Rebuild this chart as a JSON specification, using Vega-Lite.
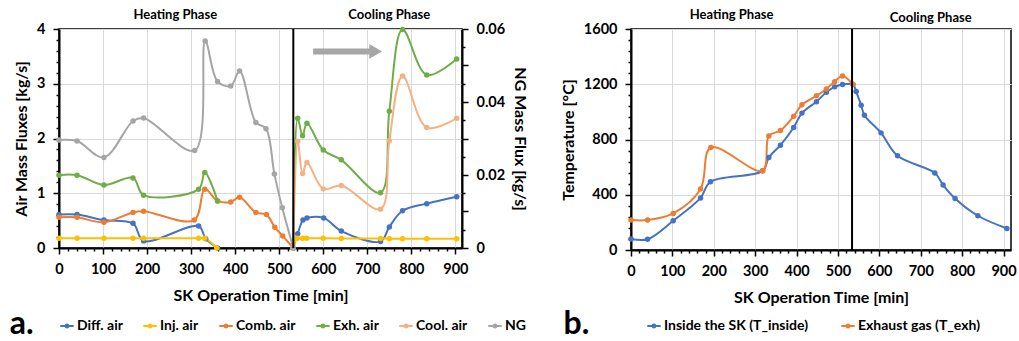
{
  "$schema": "https://vega.github.io/schema/vega-lite/v6.json",
  "padding": {"left": 8, "top": 8, "right": 0, "bottom": 0},
  "background": "white",
  "config": {
    "font": "Lato",
    "view": {"stroke": "black", "strokeWidth": 1.5},
    "axis": {
      "labelFont": "Lato", "labelFontWeight": "bold", "labelFontSize": 14.5, "labelColor": "#000",
      "titleFont": "Lato", "titleFontWeight": "bold", "titleFontSize": 16, "titleColor": "#000",
      "domainColor": "#000", "domainWidth": 2, "tickColor": "#000", "tickWidth": 1.5,
      "gridColor": "#D9D9D9", "gridWidth": 1, "labelFlush": false, "labelOverlap": false
    },
    "legend": {
      "orient": "bottom", "direction": "horizontal", "title": null,
      "labelFont": "Lato", "labelFontWeight": "bold", "labelFontSize": 14, "labelColor": "#000",
      "symbolType": "M-1,0H1M-0.22,0A0.22,0.22,0,1,0,0.22,0A0.22,0.22,0,1,0,-0.22,0",
      "symbolSize": 180, "symbolStrokeWidth": 2, "columnPadding": 16, "labelOffset": 2, "offset": 14
    }
  },
  "datasets": {
    "air": [
      {"s": "Diff. air", "g": "H", "t": 0, "v": 0.61},
      {"s": "Diff. air", "g": "H", "t": 41, "v": 0.61},
      {"s": "Diff. air", "g": "H", "t": 102, "v": 0.51},
      {"s": "Diff. air", "g": "H", "t": 168, "v": 0.45},
      {"s": "Diff. air", "g": "H", "t": 192, "v": 0.13},
      {"s": "Diff. air", "g": "H", "t": 317, "v": 0.40},
      {"s": "Diff. air", "g": "H", "t": 333, "v": 0.17},
      {"s": "Diff. air", "g": "H", "t": 360, "v": 0},
      {"s": "Diff. air", "g": "C", "t": 532, "v": 0},
      {"s": "Diff. air", "g": "C", "t": 542, "v": 0.26},
      {"s": "Diff. air", "g": "C", "t": 554, "v": 0.51},
      {"s": "Diff. air", "g": "C", "t": 563, "v": 0.55},
      {"s": "Diff. air", "g": "C", "t": 601, "v": 0.55},
      {"s": "Diff. air", "g": "C", "t": 641, "v": 0.31},
      {"s": "Diff. air", "g": "C", "t": 730, "v": 0.12},
      {"s": "Diff. air", "g": "C", "t": 750, "v": 0.385},
      {"s": "Diff. air", "g": "C", "t": 780, "v": 0.68},
      {"s": "Diff. air", "g": "C", "t": 835, "v": 0.81},
      {"s": "Diff. air", "g": "C", "t": 903, "v": 0.935},
      {"s": "Inj. air", "g": "H", "t": 0, "v": 0.18},
      {"s": "Inj. air", "g": "H", "t": 41, "v": 0.18},
      {"s": "Inj. air", "g": "H", "t": 102, "v": 0.18},
      {"s": "Inj. air", "g": "H", "t": 168, "v": 0.18},
      {"s": "Inj. air", "g": "H", "t": 192, "v": 0.18},
      {"s": "Inj. air", "g": "H", "t": 317, "v": 0.18},
      {"s": "Inj. air", "g": "H", "t": 331, "v": 0.18},
      {"s": "Inj. air", "g": "H", "t": 358, "v": 0},
      {"s": "Inj. air", "g": "C", "t": 532, "v": 0},
      {"s": "Inj. air", "g": "C", "t": 541, "v": 0.18},
      {"s": "Inj. air", "g": "C", "t": 553, "v": 0.18},
      {"s": "Inj. air", "g": "C", "t": 562, "v": 0.18},
      {"s": "Inj. air", "g": "C", "t": 600, "v": 0.18},
      {"s": "Inj. air", "g": "C", "t": 641, "v": 0.175},
      {"s": "Inj. air", "g": "C", "t": 730, "v": 0.175},
      {"s": "Inj. air", "g": "C", "t": 750, "v": 0.17},
      {"s": "Inj. air", "g": "C", "t": 780, "v": 0.17},
      {"s": "Inj. air", "g": "C", "t": 835, "v": 0.17},
      {"s": "Inj. air", "g": "C", "t": 903, "v": 0.17},
      {"s": "Comb. air", "g": "H", "t": 0, "v": 0.56},
      {"s": "Comb. air", "g": "H", "t": 41, "v": 0.56},
      {"s": "Comb. air", "g": "H", "t": 102, "v": 0.47},
      {"s": "Comb. air", "g": "H", "t": 168, "v": 0.65},
      {"s": "Comb. air", "g": "H", "t": 192, "v": 0.67},
      {"s": "Comb. air", "g": "H", "t": 307, "v": 0.51},
      {"s": "Comb. air", "g": "H", "t": 331, "v": 1.075},
      {"s": "Comb. air", "g": "H", "t": 360, "v": 0.86},
      {"s": "Comb. air", "g": "H", "t": 390, "v": 0.84},
      {"s": "Comb. air", "g": "H", "t": 410, "v": 0.925},
      {"s": "Comb. air", "g": "H", "t": 447, "v": 0.65},
      {"s": "Comb. air", "g": "H", "t": 471, "v": 0.61},
      {"s": "Comb. air", "g": "H", "t": 490, "v": 0.38},
      {"s": "Comb. air", "g": "H", "t": 508, "v": 0.22},
      {"s": "Comb. air", "g": "H", "t": 532, "v": 0},
      {"s": "Exh. air", "g": "H", "t": 0, "v": 1.33},
      {"s": "Exh. air", "g": "H", "t": 41, "v": 1.33},
      {"s": "Exh. air", "g": "H", "t": 102, "v": 1.15},
      {"s": "Exh. air", "g": "H", "t": 168, "v": 1.28},
      {"s": "Exh. air", "g": "H", "t": 192, "v": 0.965},
      {"s": "Exh. air", "g": "H", "t": 317, "v": 1.075},
      {"s": "Exh. air", "g": "H", "t": 331, "v": 1.38},
      {"s": "Exh. air", "g": "H", "t": 360, "v": 0.86},
      {"s": "Exh. air", "g": "C", "t": 532, "v": 0},
      {"s": "Exh. air", "g": "C", "t": 542, "v": 2.37},
      {"s": "Exh. air", "g": "C", "t": 553, "v": 2.05},
      {"s": "Exh. air", "g": "C", "t": 563, "v": 2.28},
      {"s": "Exh. air", "g": "C", "t": 600, "v": 1.79},
      {"s": "Exh. air", "g": "C", "t": 641, "v": 1.61},
      {"s": "Exh. air", "g": "C", "t": 730, "v": 1.01},
      {"s": "Exh. air", "g": "C", "t": 750, "v": 2.50},
      {"s": "Exh. air", "g": "C", "t": 780, "v": 3.99},
      {"s": "Exh. air", "g": "C", "t": 835, "v": 3.16},
      {"s": "Exh. air", "g": "C", "t": 903, "v": 3.45},
      {"s": "Cool. air", "g": "C", "t": 532, "v": 0},
      {"s": "Cool. air", "g": "C", "t": 542, "v": 1.95},
      {"s": "Cool. air", "g": "C", "t": 553, "v": 1.36},
      {"s": "Cool. air", "g": "C", "t": 563, "v": 1.56},
      {"s": "Cool. air", "g": "C", "t": 600, "v": 1.08},
      {"s": "Cool. air", "g": "C", "t": 641, "v": 1.14},
      {"s": "Cool. air", "g": "C", "t": 730, "v": 0.71},
      {"s": "Cool. air", "g": "C", "t": 750, "v": 1.96},
      {"s": "Cool. air", "g": "C", "t": 780, "v": 3.14},
      {"s": "Cool. air", "g": "C", "t": 835, "v": 2.2},
      {"s": "Cool. air", "g": "C", "t": 903, "v": 2.37}
    ],
    "ng": [
      {"s": "NG", "t": 0, "v": 0.0296},
      {"s": "NG", "t": 41, "v": 0.0293},
      {"s": "NG", "t": 102, "v": 0.0248},
      {"s": "NG", "t": 168, "v": 0.0348},
      {"s": "NG", "t": 192, "v": 0.0356},
      {"s": "NG", "t": 308, "v": 0.0267},
      {"s": "NG", "t": 332, "v": 0.0567},
      {"s": "NG", "t": 360, "v": 0.0456},
      {"s": "NG", "t": 390, "v": 0.0444},
      {"s": "NG", "t": 410, "v": 0.0485},
      {"s": "NG", "t": 447, "v": 0.0344},
      {"s": "NG", "t": 470, "v": 0.0327},
      {"s": "NG", "t": 489, "v": 0.0203},
      {"s": "NG", "t": 507, "v": 0.0110},
      {"s": "NG", "t": 532, "v": 0}
    ],
    "temp": [
      {"s": "Inside the SK (T_inside)", "t": 0, "v": 80},
      {"s": "Inside the SK (T_inside)", "t": 40, "v": 78},
      {"s": "Inside the SK (T_inside)", "t": 102, "v": 212},
      {"s": "Inside the SK (T_inside)", "t": 168, "v": 377},
      {"s": "Inside the SK (T_inside)", "t": 192, "v": 494},
      {"s": "Inside the SK (T_inside)", "t": 318, "v": 573},
      {"s": "Inside the SK (T_inside)", "t": 333, "v": 670},
      {"s": "Inside the SK (T_inside)", "t": 361, "v": 759},
      {"s": "Inside the SK (T_inside)", "t": 393, "v": 887},
      {"s": "Inside the SK (T_inside)", "t": 413, "v": 991},
      {"s": "Inside the SK (T_inside)", "t": 448, "v": 1074},
      {"s": "Inside the SK (T_inside)", "t": 472, "v": 1142},
      {"s": "Inside the SK (T_inside)", "t": 492, "v": 1181},
      {"s": "Inside the SK (T_inside)", "t": 511, "v": 1198},
      {"s": "Inside the SK (T_inside)", "t": 536, "v": 1200},
      {"s": "Inside the SK (T_inside)", "t": 544, "v": 1147},
      {"s": "Inside the SK (T_inside)", "t": 556, "v": 1048},
      {"s": "Inside the SK (T_inside)", "t": 564, "v": 976},
      {"s": "Inside the SK (T_inside)", "t": 604, "v": 848},
      {"s": "Inside the SK (T_inside)", "t": 644, "v": 682},
      {"s": "Inside the SK (T_inside)", "t": 734, "v": 557},
      {"s": "Inside the SK (T_inside)", "t": 754, "v": 470},
      {"s": "Inside the SK (T_inside)", "t": 783, "v": 373},
      {"s": "Inside the SK (T_inside)", "t": 838, "v": 248},
      {"s": "Inside the SK (T_inside)", "t": 908, "v": 156},
      {"s": "Exhaust gas (T_exh)", "t": 0, "v": 217},
      {"s": "Exhaust gas (T_exh)", "t": 40, "v": 217},
      {"s": "Exhaust gas (T_exh)", "t": 102, "v": 265},
      {"s": "Exhaust gas (T_exh)", "t": 168, "v": 442},
      {"s": "Exhaust gas (T_exh)", "t": 193, "v": 742},
      {"s": "Exhaust gas (T_exh)", "t": 318, "v": 573},
      {"s": "Exhaust gas (T_exh)", "t": 333, "v": 826},
      {"s": "Exhaust gas (T_exh)", "t": 361, "v": 865},
      {"s": "Exhaust gas (T_exh)", "t": 393, "v": 969},
      {"s": "Exhaust gas (T_exh)", "t": 413, "v": 1051},
      {"s": "Exhaust gas (T_exh)", "t": 448, "v": 1116},
      {"s": "Exhaust gas (T_exh)", "t": 472, "v": 1166},
      {"s": "Exhaust gas (T_exh)", "t": 492, "v": 1219},
      {"s": "Exhaust gas (T_exh)", "t": 511, "v": 1260},
      {"s": "Exhaust gas (T_exh)", "t": 536, "v": 1200}
    ],
    "vline_a": [{"t": 532, "v": 0, "v2": 4}],
    "vline_b": [{"t": 534, "v": 0, "v2": 1600}],
    "arrow_shaft": [{"t": 577, "t2": 706, "v": 3.59}],
    "arrow_head": [{"t": 719, "v": 3.59}],
    "ann_a": [
      {"t": 264, "v": 4.26, "label": "Heating Phase"},
      {"t": 750, "v": 4.26, "label": "Cooling Phase"}
    ],
    "tag_a": [{"t": -112, "v": -1.69, "label": "a."}],
    "ann_b": [
      {"t": 243, "v": 1701, "label": "Heating Phase"},
      {"t": 724, "v": 1680, "label": "Cooling Phase"}
    ],
    "tag_b": [{"t": -163, "v": -656, "label": "b."}]
  },
  "resolve": {"scale": {"color": "independent", "x": "independent", "y": "independent"}, "legend": {"color": "independent"}},
  "spacing": 30,
  "hconcat": [
    {
      "width": 403,
      "height": 219,
      "resolve": {"scale": {"y": "independent"}},
      "encoding": {
        "x": {"field": "t", "type": "quantitative", "scale": {"domain": [0, 915], "nice": false, "zero": false},
          "axis": {
            "title": "SK Operation Time [min]",
            "values": [0,20,40,60,80,100,120,140,160,180,200,220,240,260,280,300,320,340,360,380,400,420,440,460,480,500,520,540,560,580,600,620,640,660,680,700,720,740,760,780,800,820,840,860,880,900],
            "format": "d",
            "labelExpr": "datum.value % 100 === 0 ? datum.label : ''",
            "tickSize": {"condition": {"test": "datum.value % 100 === 0", "value": 6}, "value": 3},
            "grid": true,
            "gridOpacity": {"condition": {"test": "datum.value % 100 === 0", "value": 1}, "value": 0},
            "labelPadding": 8, "titlePadding": 12
          }}
      },
      "layer": [
        {
          "data": {"name": "air"},
          "mark": {"type": "line", "interpolate": "catmull-rom", "strokeWidth": 2},
          "encoding": {
            "y": {"field": "v", "type": "quantitative", "scale": {"domain": [0, 4], "nice": false},
              "axis": {
                "title": "Air Mass Fluxes [kg/s]", "orient": "left",
                "values": [0,0.2,0.4,0.6,0.8,1,1.2,1.4,1.6,1.8,2,2.2,2.4,2.6,2.8,3,3.2,3.4,3.6,3.8,4],
                "format": ".0f",
                "labelExpr": "abs(datum.value - round(datum.value)) < 0.001 ? datum.label : ''",
                "tickSize": {"condition": {"test": "abs(datum.value - round(datum.value)) < 0.001", "value": 6}, "value": 3},
                "grid": true,
                "gridOpacity": {"condition": {"test": "abs(datum.value - round(datum.value)) < 0.001", "value": 1}, "value": 0},
                "labelPadding": 8, "titlePadding": 7
              }},
            "color": {"field": "s", "type": "nominal",
              "scale": {"domain": ["Diff. air", "Inj. air", "Comb. air", "Exh. air", "Cool. air", "NG"],
                        "range": ["#4472C4", "#FFC000", "#ED7D31", "#70AD47", "#F4B183", "#A5A5A5"]}},
            "detail": {"field": "g"}
          }
        },
        {
          "data": {"name": "air"},
          "mark": {"type": "point", "filled": true, "size": 30, "opacity": 1},
          "encoding": {
            "y": {"field": "v", "type": "quantitative", "scale": {"domain": [0, 4], "nice": false}, "axis": null},
            "color": {"field": "s", "type": "nominal"}
          }
        },
        {
          "data": {"name": "ng"},
          "mark": {"type": "line", "interpolate": "catmull-rom", "strokeWidth": 2},
          "encoding": {
            "y": {"field": "v", "type": "quantitative", "scale": {"domain": [0, 0.06], "nice": false},
              "axis": {
                "title": "NG Mass Flux [kg/s]", "orient": "right",
                "values": [0,0.005,0.01,0.015,0.02,0.025,0.03,0.035,0.04,0.045,0.05,0.055,0.06],
                "format": ".2~f",
                "labelExpr": "abs(datum.value*50 - round(datum.value*50)) < 0.001 ? datum.label : ''",
                "tickSize": {"condition": {"test": "abs(datum.value*100 - round(datum.value*100)) < 0.001", "value": 6}, "value": 3},
                "grid": false,
                "labelPadding": 8, "titlePadding": 7
              }},
            "color": {"field": "s", "type": "nominal"}
          }
        },
        {
          "data": {"name": "ng"},
          "mark": {"type": "point", "filled": true, "size": 30, "opacity": 1},
          "encoding": {
            "y": {"field": "v", "type": "quantitative", "scale": {"domain": [0, 0.06], "nice": false}, "axis": null},
            "color": {"field": "s", "type": "nominal"}
          }
        },
        {
          "data": {"name": "vline_a"},
          "mark": {"type": "rule", "color": "black", "strokeWidth": 2},
          "encoding": {
            "y": {"field": "v", "type": "quantitative", "scale": {"domain": [0, 4], "nice": false}, "axis": null},
            "y2": {"field": "v2"}
          }
        },
        {
          "data": {"name": "arrow_shaft"},
          "mark": {"type": "rule", "color": "#A6A6A6", "strokeWidth": 6},
          "encoding": {
            "x2": {"field": "t2"},
            "y": {"field": "v", "type": "quantitative", "scale": {"domain": [0, 4], "nice": false}, "axis": null}
          }
        },
        {
          "data": {"name": "arrow_head"},
          "mark": {"type": "point", "shape": "triangle-right", "filled": true, "color": "#A6A6A6", "size": 220, "opacity": 1},
          "encoding": {
            "y": {"field": "v", "type": "quantitative", "scale": {"domain": [0, 4], "nice": false}, "axis": null}
          }
        },
        {
          "data": {"name": "ann_a"},
          "mark": {"type": "text", "font": "Lato", "fontWeight": "bold", "fontSize": 13, "baseline": "middle", "align": "center", "color": "#000"},
          "encoding": {
            "y": {"field": "v", "type": "quantitative", "scale": {"domain": [0, 4], "nice": false}, "axis": null},
            "text": {"field": "label"}
          }
        },
        {
          "data": {"name": "tag_a"},
          "mark": {"type": "text", "font": "Lato", "fontWeight": "bold", "fontSize": 32, "baseline": "bottom", "align": "left", "color": "#000"},
          "encoding": {
            "y": {"field": "v", "type": "quantitative", "scale": {"domain": [0, 4], "nice": false}, "axis": null},
            "text": {"field": "label"}
          }
        }
      ]
    },
    {
      "width": 380,
      "height": 221,
      "encoding": {
        "x": {"field": "t", "type": "quantitative", "scale": {"domain": [0, 918], "nice": false, "zero": false},
          "axis": {
            "title": "SK Operation Time [min]",
            "values": [0,20,40,60,80,100,120,140,160,180,200,220,240,260,280,300,320,340,360,380,400,420,440,460,480,500,520,540,560,580,600,620,640,660,680,700,720,740,760,780,800,820,840,860,880,900],
            "format": "d",
            "labelExpr": "datum.value % 100 === 0 ? datum.label : ''",
            "tickSize": {"condition": {"test": "datum.value % 100 === 0", "value": 6}, "value": 3},
            "grid": true,
            "gridOpacity": {"condition": {"test": "datum.value % 100 === 0", "value": 1}, "value": 0},
            "labelPadding": 8, "titlePadding": 12
          }},
        "y": {"field": "v", "type": "quantitative", "scale": {"domain": [0, 1600], "nice": false},
          "axis": {
            "title": "Temperature [°C]", "orient": "left",
            "values": [0,80,160,240,320,400,480,560,640,720,800,880,960,1040,1120,1200,1280,1360,1440,1520,1600],
            "format": "d",
            "labelExpr": "datum.value % 400 === 0 ? datum.label : ''",
            "tickSize": {"condition": {"test": "datum.value % 400 === 0", "value": 6}, "value": 3},
            "grid": true,
            "gridOpacity": {"condition": {"test": "datum.value % 400 === 0", "value": 1}, "value": 0},
            "labelPadding": 8, "titlePadding": 7
          }}
      },
      "layer": [
        {
          "data": {"name": "temp"},
          "mark": {"type": "line", "interpolate": "catmull-rom", "strokeWidth": 2},
          "encoding": {
            "color": {"field": "s", "type": "nominal",
              "scale": {"domain": ["Inside the SK (T_inside)", "Exhaust gas (T_exh)"], "range": ["#4472C4", "#ED7D31"]},
              "legend": {"columnPadding": 28, "padding": 15, "offset": -3}}
          }
        },
        {
          "data": {"name": "temp"},
          "mark": {"type": "point", "filled": true, "size": 30, "opacity": 1},
          "encoding": {
            "color": {"field": "s", "type": "nominal"}
          }
        },
        {
          "data": {"name": "vline_b"},
          "mark": {"type": "rule", "color": "black", "strokeWidth": 2},
          "encoding": {
            "y2": {"field": "v2"}
          }
        },
        {
          "data": {"name": "ann_b"},
          "mark": {"type": "text", "font": "Lato", "fontWeight": "bold", "fontSize": 13, "baseline": "middle", "align": "center", "color": "#000"},
          "encoding": {
            "text": {"field": "label"}
          }
        },
        {
          "data": {"name": "tag_b"},
          "mark": {"type": "text", "font": "Lato", "fontWeight": "bold", "fontSize": 32, "baseline": "bottom", "align": "left", "color": "#000"},
          "encoding": {
            "text": {"field": "label"}
          }
        }
      ]
    }
  ]
}
